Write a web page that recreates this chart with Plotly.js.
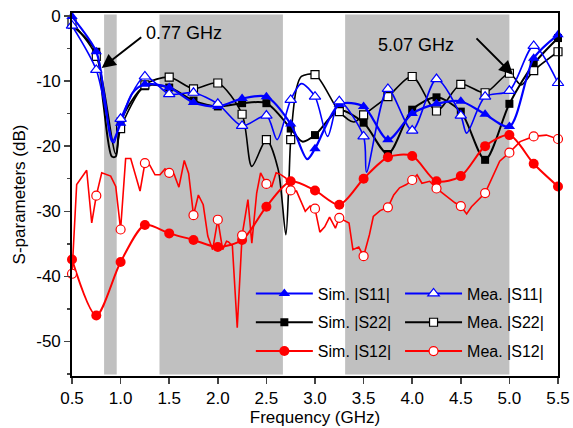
<!DOCTYPE html>
<html><head><meta charset="utf-8">
<script src="https://cdn.plot.ly/plotly-3.0.1.min.js"></script>
<style>html,body{margin:0;padding:0;background:#fff}#chart{width:573px;height:428px}</style>
</head><body><div id="chart"></div>
<script>
// Marker frequencies (GHz)
const markerFreq = [0.5,0.75,1.0,1.25,1.5,1.75,2.0,2.25,2.5,2.75,3.0,3.25,3.5,3.75,4.0,4.25,4.5,4.75,5.0,5.25,5.5];

// Values at marker frequencies (dB)
const simS11 = [-0.1,-5.5,-16.5,-10.5,-11.0,-13.3,-13.9,-12.7,-12.4,-16.6,-20.4,-13.6,-13.9,-19.0,-15.0,-13.5,-13.1,-15.1,-17.0,-6.5,-2.9];
const meaS11 = [-1.5,-8.3,-15.8,-9.3,-12.0,-11.8,-13.5,-16.9,-15.3,-12.9,-12.4,-13.1,-18.5,-11.2,-17.6,-9.7,-15.3,-12.4,-11.5,-4.6,-10.3];
const simS22 = [-1.4,-5.5,-16.2,-10.8,-11.0,-13.0,-13.9,-13.4,-13.4,-17.3,-18.3,-14.5,-16.4,-21.2,-14.4,-12.5,-14.7,-22.1,-13.5,-7.4,-3.4];
const meaS22 = [-1.0,-6.2,-17.3,-10.6,-9.4,-11.2,-10.3,-15.1,-19.0,-19.0,-9.0,-14.7,-15.2,-12.4,-9.3,-14.6,-10.5,-11.8,-8.8,-8.4,-5.5];
const simS12 = [-37.4,-46.0,-37.8,-32.1,-33.4,-34.4,-35.5,-34.4,-29.3,-25.4,-26.8,-29.0,-25.0,-21.7,-21.5,-25.4,-24.6,-20.0,-18.3,-22.7,-26.2];
const meaS12 = [-39.6,-27.6,-32.8,-22.6,-24.1,-30.6,-31.3,-33.7,-25.8,-26.8,-29.6,-31.0,-36.9,-29.4,-25.2,-26.5,-29.2,-27.2,-21.0,-18.5,-18.9];

// Extra curve points between markers
const simS11ExtraF  = [0.83, 0.915, 1.12, 2.92];
const simS11ExtraDB = [-12.0, -19.3, -11.9, -22.0];
const meaS11ExtraF  = [0.93, 2.61, 2.86, 3.13, 3.53, 4.56];
const meaS11ExtraDB = [-19.5, -19.0, -10.4, -18.5, -24.0, -18.0];
const simS22ExtraF  = [0.82, 0.91, 0.95, 2.87];
const simS22ExtraDB = [-13.1, -21.6, -21.6, -19.3];
const meaS22ExtraF  = [0.95, 2.35, 2.62, 2.70, 2.73, 2.81, 2.86, 3.4, 5.12];
const meaS22ExtraDB = [-21.2, -23.1, -23.5, -33.6, -26.0, -11.1, -9.3, -16.3, -10.6];

// Measured |S12| full trace (jagged)
const meaS12LineF = [0.5,0.548,0.651,0.703,0.75,0.806,0.898,0.95,1.0,1.052,1.104,1.158,1.2,1.25,1.30,1.354,1.405,1.457,1.5,1.55,1.60,1.655,1.70,1.75,1.80,1.85,1.897,1.947,2.0,2.05,2.09,2.11,2.15,2.2,2.25,2.31,2.35,2.40,2.44,2.5,2.555,2.60,2.64,2.70,2.75,2.81,2.86,2.90,2.95,3.0,3.05,3.10,3.15,3.21,3.25,3.31,3.35,3.39,3.45,3.5,3.56,3.60,3.67,3.75,3.81,3.87,3.94,4.0,4.05,4.10,4.18,4.25,4.34,4.44,4.5,4.56,4.61,4.68,4.75,4.83,4.90,5.0,5.11,5.25,5.38,5.5];
const meaS12LineDB = [-39.6,-25.9,-23.7,-31.8,-27.6,-24.1,-24.6,-26.2,-32.8,-21.9,-21.9,-24.6,-26.9,-22.6,-22.9,-24.4,-24.4,-23.5,-24.1,-24.3,-26.3,-22.2,-24.2,-30.6,-27.5,-29.0,-33.8,-35.9,-31.3,-35.9,-34.6,-34.7,-35.3,-47.9,-33.7,-28.2,-34.9,-27.2,-24.1,-25.8,-26.2,-24.1,-24.3,-24.9,-26.8,-26.9,-28.7,-30.0,-29.2,-29.6,-33.2,-32.4,-30.9,-32.6,-31.0,-31.5,-31.8,-35.9,-35.5,-36.9,-33.6,-30.8,-29.9,-29.4,-27.5,-26.4,-25.9,-25.2,-24.4,-25.7,-25.4,-26.5,-27.5,-28.7,-29.2,-30.4,-29.3,-28.2,-27.2,-24.6,-22.3,-21.0,-19.3,-18.5,-18.3,-18.9];

// Shaded bands (GHz)
const bandStart = [0.83, 1.4, 3.31];
const bandEnd   = [0.96, 2.67, 5.0];

// Tick labels
const yTickVals = [0,-10,-20,-30,-40,-50];
const yTickText = ['0','-10','-20','-30','-40','-50'];
const xTickVals = [0.5,1.0,1.5,2.0,2.5,3.0,3.5,4.0,4.5,5.0,5.5];

function merge(f1, v1, f2, v2) {
  const pts = f1.map((f,i)=>[f,v1[i]]).concat(f2.map((f,i)=>[f,v2[i]]));
  pts.sort((a,b)=>a[0]-b[0]);
  return {x: pts.map(p=>p[0]), y: pts.map(p=>p[1])};
}

const BLUE='#0000ff', BLACK='#000000', RED='#ff0000';
const series = [
  {name:'Sim. |S22|', vals:simS22, ef:simS22ExtraF, ed:simS22ExtraDB, color:BLACK, sym:'square', size:8, open:false, lw:2, leg:'legend', order:2},
  {name:'Mea. |S22|', vals:meaS22, ef:meaS22ExtraF, ed:meaS22ExtraDB, color:BLACK, sym:'square', size:8, open:true, lw:1.6, leg:'legend2', order:2},
  {name:'Sim. |S11|', vals:simS11, ef:simS11ExtraF, ed:simS11ExtraDB, color:BLUE, sym:'triangle-up', size:10, open:false, lw:2.2, leg:'legend', order:1},
  {name:'Mea. |S11|', vals:meaS11, ef:meaS11ExtraF, ed:meaS11ExtraDB, color:BLUE, sym:'triangle-up', size:10, open:true, lw:1.6, leg:'legend2', order:1},
  {name:'Sim. |S12|', vals:simS12, ef:[], ed:[], color:RED, sym:'circle', size:10, open:false, lw:2, leg:'legend', order:3},
  {name:'Mea. |S12|', vals:meaS12, ef:null, ed:null, color:RED, sym:'circle', size:9, open:true, lw:1.6, leg:'legend2', order:3}
];

const traces = [];
series.forEach(s => {
  let line;
  if (s.ef === null) line = {x: meaS12LineF, y: meaS12LineDB, shape:'linear'};
  else { line = merge(markerFreq, s.vals, s.ef, s.ed); line.shape = 'spline'; }
  traces.push({x: line.x, y: line.y, type:'scatter', mode:'lines', showlegend:false, cliponaxis:false,
    line:{color:s.color, width:s.lw, shape:line.shape, smoothing:0.8}, hoverinfo:'skip'});
  traces.push({x: markerFreq, y: s.vals, type:'scatter', mode:'markers', showlegend:false, cliponaxis:false,
    marker:{symbol:s.sym, size:s.size, color: s.open ? '#ffffff' : s.color, line:{color:s.color, width: s.open ? 1.2 : 0}}});
});
series.slice().sort((a,b)=>a.order-b.order).forEach(s => {
  traces.push({x:[null], y:[null], type:'scatter', mode:'lines+markers', name:s.name, legend:s.leg, legendgroup:s.name,
    line:{color:s.color, width:2}, marker:{symbol:s.sym, size:s.size, color: s.open ? '#ffffff' : s.color, line:{color:s.color, width: s.open ? 1.2 : 0}}});
});

const shapes = bandStart.map((b,i)=>({type:'rect', xref:'x', yref:'paper', x0:b, x1:bandEnd[i], y0:0.004, y1:0.996,
  fillcolor:'#c0c0c0', line:{width:0}, layer:'below'}));

const FONT = 'Liberation Sans, Arial, sans-serif';
const layout = {
  width:573, height:428,
  margin:{l:72, r:15, t:13, b:52},
  paper_bgcolor:'#ffffff', plot_bgcolor:'#ffffff',
  font:{family:FONT, size:17, color:'#000'},
  showlegend:true,
  shapes: shapes,
  xaxis:{range:[0.5,5.5], tickmode:'array', tickvals:xTickVals, tickformat:'.1f', ticks:'outside', ticklen:6, tickwidth:1.5,
    showline:true, linewidth:1.8, linecolor:'#000', mirror:true, showgrid:false, zeroline:false,
    title:{text:'Frequency (GHz)', font:{size:17}, standoff:2}, tickfont:{size:17}},
  yaxis:{range:[-55.3,0.45], tickmode:'array', tickvals:yTickVals, ticktext:yTickText, ticks:'outside', ticklen:6, tickwidth:1.5,
    minor:{tickvals:[-5,-15,-25,-35,-45,-55], ticks:'outside', ticklen:3.5, tickwidth:1.5, showgrid:false},
    showline:true, linewidth:1.8, linecolor:'#000', mirror:true, showgrid:false, zeroline:false,
    title:{text:'S-parameters (dB)', font:{size:17}, standoff:6}, tickfont:{size:17}},
  legend:{x:0.368, y:0.274, xanchor:'left', yanchor:'top', bgcolor:'rgba(0,0,0,0)', font:{size:16}, itemwidth:57, tracegroupgap:5, traceorder:'grouped'},
  legend2:{x:0.675, y:0.274, xanchor:'left', yanchor:'top', bgcolor:'rgba(0,0,0,0)', font:{size:16}, itemwidth:57, tracegroupgap:5, traceorder:'grouped'},
  annotations:[
    {x:0.806, y:-8.0, xref:'x', yref:'y', ax:41, ay:-32, text:'', showarrow:true, arrowhead:2, arrowsize:1.4, arrowwidth:2, arrowcolor:'#000'},
    {x:5.037, y:-9.05, xref:'x', yref:'y', ax:-38, ay:-38, text:'', showarrow:true, arrowhead:2, arrowsize:1.4, arrowwidth:2, arrowcolor:'#000'},
    {x:1.652, y:-2.6, xref:'x', yref:'y', text:'0.77 GHz', showarrow:false, font:{size:18}},
    {x:4.04, y:-4.45, xref:'x', yref:'y', text:'5.07 GHz', showarrow:false, font:{size:18}}
  ]
};

Plotly.newPlot('chart', traces, layout, {displayModeBar:false, staticPlot:true});
</script></body></html>
